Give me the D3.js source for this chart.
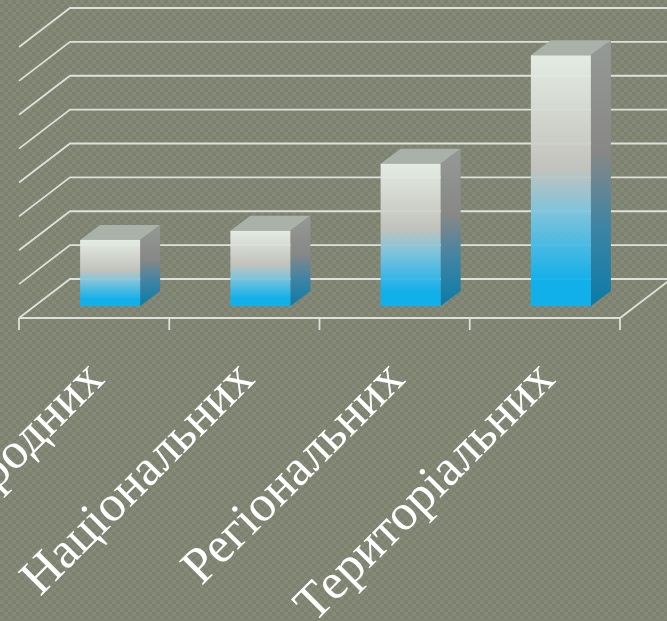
<!DOCTYPE html>
<html>
<head>
<meta charset="utf-8">
<style>
html, body { margin: 0; padding: 0; background: #7f8371; overflow: hidden; }
svg { display: block; }
.label { font-family: "Liberation Serif", serif; font-size: 51px; fill: #fff; }
.grid { stroke: #dfe0da; stroke-width: 1.8; fill: none; }
</style>
</head>
<body>
<script src="https://cdn.jsdelivr.net/npm/d3@7"></script>
<script>
var width = 667, height = 621;

var categories = ["Міжнародних", "Національних", "Регіональних", "Територіальних"];
var values = [1.95, 2.22, 4.2, 7.4];
var gridValues = [0, 1, 2, 3, 4, 5, 6, 7, 8];

// 3d offset of the chart box and of the bars
var boxDx = 51, boxDy = -39;
var barDx = 20, barDy = -15;
var floorY = 318, floorLeft = 19, floorRight = 620;

var x = d3.scaleBand().domain(categories).range([floorLeft, floorRight]);
// height above the back of the floor
var y = d3.scaleLinear().domain([0, 8]).range([floorY, floorY - 271]);
var barBase = 12; // front face sits this far behind the front of the floor
var barW = 60;

var svg = d3.select("body").append("svg").attr("width", width).attr("height", height);
var defs = svg.append("defs");

// woven background
var pat = defs.append("pattern").attr("id", "weave").attr("width", 8).attr("height", 8)
  .attr("patternUnits", "userSpaceOnUse");
pat.append("rect").attr("width", 8).attr("height", 8).attr("fill", "#7d816f");
pat.append("rect").attr("width", 4).attr("height", 4).attr("fill", "#858977");
pat.append("rect").attr("x", 4).attr("y", 4).attr("width", 4).attr("height", 4).attr("fill", "#858977");
svg.append("rect").attr("width", width).attr("height", height).attr("fill", "url(#weave)");

function gradient(id, stops) {
  var g = defs.append("linearGradient").attr("id", id).attr("x1", 0).attr("y1", 0).attr("x2", 0).attr("y2", 1);
  stops.forEach(function(s) {
    g.append("stop").attr("offset", s[0]).attr("stop-color", s[1]);
  });
}
gradient("front", [[0, "#e9f1e9"], [0.45, "#c6c6c1"], [0.62, "#80c7e0"], [0.9, "#0cb2f0"], [1, "#0cb2f0"]]);
gradient("side", [[0, "#959996"], [0.42, "#888886"], [0.7, "#3f84a4"], [1, "#0a7ba8"]]);

// grid: back wall plus left wall
svg.selectAll("path.grid").data(gridValues).enter().append("path")
  .attr("class", "grid")
  .attr("d", function(d) {
    return d3.line()([[floorLeft, y(d)], [floorLeft + boxDx, y(d) + boxDy], [width + 2, y(d) + boxDy]]);
  });

// floor and axis
svg.append("path").attr("class", "grid")
  .attr("d", d3.line()([[floorLeft, floorY], [floorRight, floorY], [floorRight + boxDx, floorY + boxDy]]));
x.domain().concat(["end"]).forEach(function(c) {
  var px = c === "end" ? floorRight : x(c);
  svg.append("line").attr("class", "grid").attr("x1", px).attr("x2", px).attr("y1", floorY).attr("y2", floorY + 12);
});

var bars = svg.selectAll("g.bar").data(categories).enter().append("g").attr("class", "bar");

bars.each(function(c, i) {
  var g = d3.select(this);
  var h = y(0) - y(values[i]);
  var x0 = x(c) + (x.bandwidth() - barW) / 2 + 16;
  var y0 = floorY - barBase, y1 = y0 - h;
  g.append("path").attr("fill", "#aab1a9")
    .attr("d", d3.line()([[x0, y1], [x0 + barDx, y1 + barDy], [x0 + barW + barDx, y1 + barDy], [x0 + barW, y1]]) + "Z");
  g.append("path").attr("fill", "url(#side)")
    .attr("d", d3.line()([[x0 + barW, y1], [x0 + barW + barDx, y1 + barDy], [x0 + barW + barDx, y0 + barDy], [x0 + barW, y0]]) + "Z");
  // slightly see-through so the grid and weave show faintly, like the original
  g.append("rect").attr("x", x0).attr("y", y1).attr("width", barW).attr("height", h)
    .attr("fill", "url(#front)").attr("fill-opacity", 0.95);
});

// labels, rotated and ending under each band
svg.selectAll("text.label").data(categories).enter().append("text")
  .attr("class", "label")
  .attr("text-anchor", "end")
  .attr("transform", function(c) {
    return "translate(" + (x(c) + x.bandwidth() / 2 + 12) + "," + 381 + ") rotate(-45)";
  })
  .text(function(c) { return c; });
</script>
</body>
</html>
